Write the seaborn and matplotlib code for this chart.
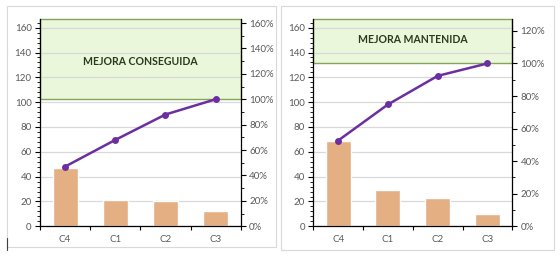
import numpy as np
import pandas as pd
import matplotlib
matplotlib.use("Agg")
import matplotlib.pyplot as plt
import matplotlib.transforms as mtransforms
from matplotlib.patches import Rectangle
from matplotlib.ticker import MultipleLocator, PercentFormatter
from matplotlib.lines import Line2D
import seaborn as sns

categories = ["C4", "C1", "C2", "C3"]
values_conseguida = [47, 21, 20, 12]
values_mantenida = [69, 29, 23, 10]
titles = ["MEJORA CONSEGUIDA", "MEJORA MANTENIDA"]
left_max = [167, 167]
right_max = [1.632, 1.273]
right_major = [0.2, 0.2]

sns.set_theme(style="white")
plt.rcParams["font.family"] = ["Lato", "DejaVu Sans"]

BAR = "#E5AF84"
LINE = "#6B2FA0"
GREEN_FILL = "#EAF7DA"
GREEN_EDGE = "#84A45A"
GRID = "#D9D9D9"
TXT = "#595959"

W, H = 560, 257
fig = plt.figure(figsize=(W / 100, H / 100), dpi=100)

# panel frames (chart areas)
for (x0, x1, y0, y1) in [(7, 276, 6, 247), (281, 554, 6, 250)]:
    fig.add_artist(Rectangle((x0 / W, 1 - y1 / H), (x1 - x0) / W, (y1 - y0) / H,
                             transform=fig.transFigure, fill=False,
                             edgecolor="#D9D9D9", linewidth=0.8))
fig.add_artist(Line2D([7 / W, 7 / W], [1 - 238 / H, 1 - 250 / H],
                      transform=fig.transFigure, color="#404040", linewidth=0.8))

axes_px = [(40, 240.7), (313.3, 512.3)]
top_px, bot_px = 19, 226.3
title_y = [0.797, 0.899]

for i, vals in enumerate([values_conseguida, values_mantenida]):
    x0, x1 = axes_px[i]
    ax = fig.add_axes([x0 / W, 1 - bot_px / H, (x1 - x0) / W, (bot_px - top_px) / H])
    df = pd.DataFrame({"cat": categories, "val": vals})
    df["cum"] = df["val"].cumsum() / df["val"].sum()

    sns.barplot(data=df, x="cat", y="val", ax=ax, color=BAR, width=0.5,
                saturation=1, zorder=2)
    ax.set_xlim(-0.5, len(categories) - 0.5)
    ax.set_ylim(0, left_max[i])
    ax.yaxis.set_major_locator(MultipleLocator(20))
    ax.yaxis.set_minor_locator(MultipleLocator(4))
    ax.grid(axis="y", which="major", color=GRID, linewidth=0.9, zorder=0.5)
    ax.set_axisbelow(True)
    ax.set_xlabel("")
    ax.set_ylabel("")

    ax2 = ax.twinx()
    ax2.set_ylim(0, right_max[i])
    ax2.yaxis.set_major_locator(MultipleLocator(right_major[i]))
    ax2.yaxis.set_minor_locator(MultipleLocator(0.1))
    ax2.yaxis.set_major_formatter(PercentFormatter(1.0, decimals=0))
    sns.lineplot(data=df, x="cat", y="cum", ax=ax2, color=LINE, linewidth=1.8,
                 marker="o", markersize=5, markeredgewidth=0, sort=False, zorder=5)
    ax2.set_xlim(-0.5, len(categories) - 0.5)
    ax2.set_ylabel("")
    ax2.set_xlabel("")

    # green box from 100% up to top
    tr = mtransforms.blended_transform_factory(ax.transAxes, ax2.transData)
    ax.add_patch(Rectangle((0, 1.0), 1, right_max[i] - 1.0, transform=tr,
                           facecolor=GREEN_FILL, edgecolor=GREEN_EDGE,
                           linewidth=1.0, zorder=0.2, clip_on=False))
    ax.text(0.5, title_y[i], titles[i], transform=ax.transAxes, ha="center",
            va="center", fontsize=7.6, fontweight="bold", color="#2B3A1E",
            zorder=6)

    for a in (ax, ax2):
        for s in a.spines.values():
            s.set_visible(False)
    ax.spines["left"].set_visible(True)
    ax.spines["bottom"].set_visible(True)
    ax2.spines["right"].set_visible(True)
    for s in [ax.spines["left"], ax.spines["bottom"], ax2.spines["right"]]:
        s.set_color("black")
        s.set_linewidth(0.9)

    ax.tick_params(axis="y", which="major", direction="out", length=3.5, width=0.8,
                   color="black", labelsize=7, labelcolor=TXT, pad=2.5, left=True)
    ax.tick_params(axis="y", which="minor", direction="out", length=2, width=0.6,
                   color="black", left=True)
    ax2.tick_params(axis="y", which="major", direction="out", length=3.5, width=0.8,
                    color="black", labelsize=7, labelcolor=TXT, pad=2.5, right=True)
    ax2.tick_params(axis="y", which="minor", direction="out", length=2, width=0.6,
                    color="black", right=True)

    # category ticks: labels at centers, marks at boundaries
    ax.set_xticks(range(len(categories)))
    ax.set_xticklabels(categories)
    ax.tick_params(axis="x", which="major", length=0, labelsize=7, labelcolor=TXT, pad=6)
    ax.set_xticks(np.arange(-0.5, len(categories), 1.0), minor=True)
    ax.tick_params(axis="x", which="minor", direction="out", length=3, width=0.8,
                   color="black", bottom=True)
    ax2.tick_params(axis="x", which="both", length=0)

fig.savefig("out.png", dpi=100)
